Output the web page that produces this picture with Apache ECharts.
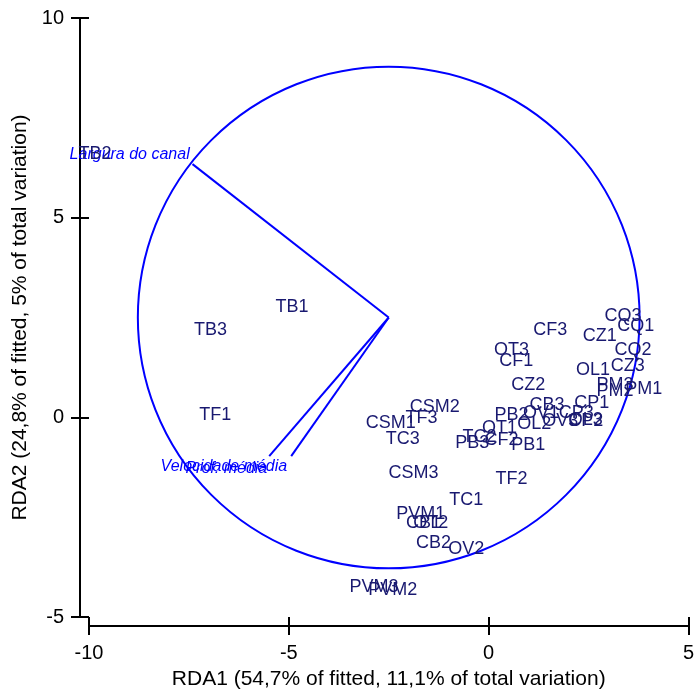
<!DOCTYPE html>
<html>
<head>
<meta charset="utf-8">
<style>
  html, body { margin: 0; padding: 0; background: #fff; }
  #chart { width: 697px; height: 695px; }
</style>
<script src="https://cdn.jsdelivr.net/npm/echarts@6/dist/echarts.min.js"></script>
</head>
<body>
<div id="chart"></div>
<script>
// sample scores on RDA1 / RDA2
const siteNames = [
  'TB1', 'TB2', 'TB3', 'TF1', 'TF2', 'TF3', 'TC1', 'TC2', 'TC3',
  'CSM1', 'CSM2', 'CSM3', 'CF1', 'CF2', 'CF3', 'CZ1', 'CZ2', 'CZ3',
  'CQ1', 'CQ2', 'CQ3', 'OT1', 'OT2', 'OT3', 'OL1', 'OL2', 'OL3',
  'OV1', 'OV2', 'OV3', 'PB1', 'PB2', 'PB3', 'PM1', 'PM2', 'PM3',
  'PVM1', 'PVM2', 'PVM3', 'CB1', 'CB2', 'CB3', 'CP1', 'CP2', 'CP3'
]
const siteX = [
  -4.92, -9.85, -6.96, -6.84, 0.57, -1.68, -0.56, -0.23, -2.15,
  -2.45, -1.35, -1.88, 0.69, 0.32, 1.54, 2.78, 0.99, 3.48,
  3.68, 3.61, 3.36, 0.27, -1.45, 0.57, 2.61, 1.14, 2.43,
  1.31, -0.56, 1.79, 0.99, 0.57, -0.41, 3.88, 3.16, 3.16,
  -1.70, -2.40, -2.87, -1.63, -1.38, 1.46, 2.58, 2.43, 2.19
]
const siteY = [
  2.76, 6.59, 2.19, 0.07, -1.54, -0.02, -2.06, -0.50, -0.55,
  -0.15, 0.27, -1.39, 1.42, -0.57, 2.19, 2.04, 0.80, 1.29,
  2.29, 1.69, 2.54, -0.27, -2.64, 1.69, 1.19, -0.17, -0.07,
  0.10, -3.31, -0.10, -0.70, 0.05, -0.65, 0.72, 0.65, 0.82,
  -2.41, -4.33, -4.25, -2.64, -3.16, 0.32, 0.35, -0.10, 0.12
]

// environmental vectors (start at the circle centre)
const vecNames = ['Largura do canal', 'Velocidade média', 'Prof. média']
const vecEndX = [-7.41, -4.94, -5.49]
const vecEndY = [6.34, -0.97, -0.97]
const vecLabelX = [-7.48, -5.04, -5.54]
const vecLabelY = [6.59, -1.24, -1.29]

// equilibrium circle
const circleCenter = [-2.5, 2.5]
const circleRadius = 6.28

const xTicks = [-10, -5, 0, 5]
const yTicks = [-5, 0, 5, 10]

const xTitle = 'RDA1 (54,7% of fitted, 11,1% of total variation)'
const yTitle = 'RDA2 (24,8% of fitted, 5% of total variation)'

const font = 'Liberation Sans, Arial, sans-serif'
const blue = '#0000ff'
const navy = '#191970'

const chart = echarts.init(document.getElementById('chart'))

const baseAxis = (ticks) => ({
  type: 'value',
  min: ticks[0],
  max: ticks[ticks.length - 1],
  interval: ticks[1] - ticks[0],
  offset: 9,
  splitLine: { show: false }
})

const vecSeries = vecNames.map((n, i) => ({
  type: 'line',
  name: n,
  symbol: 'none',
  silent: true,
  lineStyle: { color: blue, width: 2 },
  data: [circleCenter, [vecEndX[i], vecEndY[i]]]
}))

const option = {
  animation: false,
  grid: { left: 89, right: 6, top: 18, bottom: 74 },
  xAxis: [
    {
      ...baseAxis(xTicks),
      position: 'bottom',
      axisLine: { onZero: false, lineStyle: { color: '#000', width: 2 } },
      axisTick: { length: 9, lineStyle: { color: '#000', width: 2 } },
      axisLabel: { color: '#000', fontSize: 20, fontFamily: font, margin: 17 },
      name: xTitle,
      nameLocation: 'middle',
      nameGap: 43,
      nameTextStyle: { color: '#000', fontSize: 21, fontFamily: font }
    },
    {
      ...baseAxis(xTicks),
      position: 'bottom',
      axisLine: { show: false, onZero: false },
      axisTick: { inside: true, length: 9, lineStyle: { color: '#000', width: 2 } },
      axisLabel: { show: false }
    }
  ],
  yAxis: [
    {
      ...baseAxis(yTicks),
      position: 'left',
      axisLine: { onZero: false, lineStyle: { color: '#000', width: 2 } },
      axisTick: { length: 9, lineStyle: { color: '#000', width: 2 } },
      axisLabel: { color: '#000', fontSize: 20, fontFamily: font, margin: 16 },
      name: yTitle,
      nameLocation: 'middle',
      nameGap: 47,
      nameTextStyle: { color: '#000', fontSize: 21, fontFamily: font }
    },
    {
      ...baseAxis(yTicks),
      position: 'left',
      axisLine: { show: false, onZero: false },
      axisTick: { inside: true, length: 9, lineStyle: { color: '#000', width: 2 } },
      axisLabel: { show: false }
    }
  ],
  series: [
    {
      type: 'custom',
      silent: true,
      data: [[circleCenter[0], circleCenter[1], circleRadius]],
      renderItem: (params, api) => {
        const c = api.coord([api.value(0), api.value(1)])
        const s = api.size([api.value(2), api.value(2)])
        return {
          type: 'circle',
          shape: { cx: c[0], cy: c[1], r: (s[0] + s[1]) / 2 },
          style: { fill: 'none', stroke: blue, lineWidth: 2 }
        }
      }
    },
    ...vecSeries,
    {
      type: 'scatter',
      symbolSize: 0,
      silent: true,
      itemStyle: { opacity: 1 },
      label: {
        show: true,
        position: 'inside',
        align: 'right',
        formatter: '{b}',
        color: blue,
        fontSize: 16,
        fontStyle: 'italic',
        fontFamily: font
      },
      data: vecNames.map((n, i) => ({ name: n, value: [vecLabelX[i], vecLabelY[i]] }))
    },
    {
      type: 'scatter',
      symbolSize: 0,
      silent: true,
      itemStyle: { opacity: 1 },
      label: {
        show: true,
        position: 'inside',
        formatter: '{b}',
        color: navy,
        fontSize: 18,
        fontFamily: font
      },
      data: siteNames.map((n, i) => ({ name: n, value: [siteX[i], siteY[i]] }))
    }
  ]
}

chart.setOption(option)
</script>
</body>
</html>
